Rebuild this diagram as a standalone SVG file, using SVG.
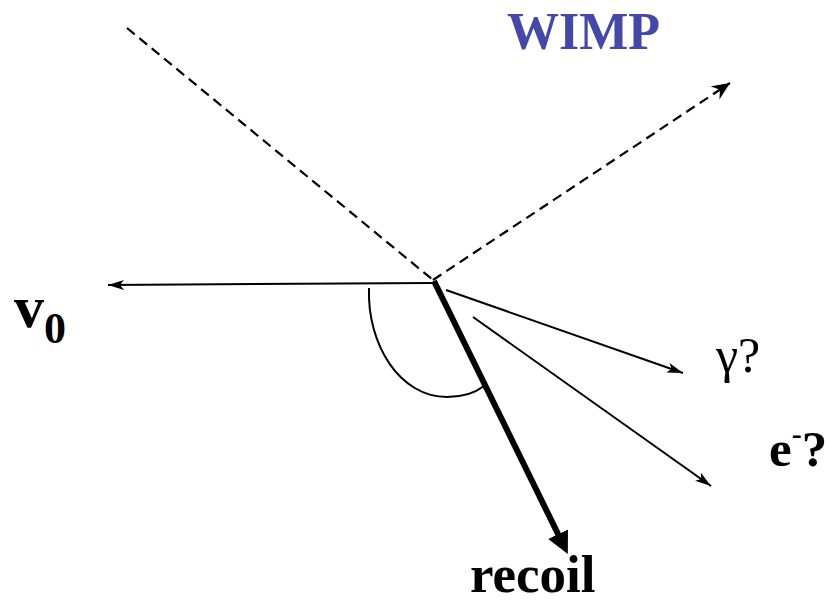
<svg xmlns="http://www.w3.org/2000/svg" width="829" height="605" viewBox="0 0 829 605">
<style>
.thin{stroke:#000;stroke-width:2;fill:none}
.dash{stroke:#000;stroke-width:2.2;fill:none;stroke-dasharray:10,6}
.lbl{font-family:"Liberation Serif","Times New Roman",serif;fill:#000}
.b{font-weight:bold}
</style>
<defs>
<marker id="ah" markerUnits="userSpaceOnUse" markerWidth="18" markerHeight="12" refX="16" refY="5" orient="auto">
<path d="M0,0 L16,5 L0,10 L4,5 z" fill="#000"/>
</marker>
<marker id="ahd" markerUnits="userSpaceOnUse" markerWidth="22" markerHeight="18" refX="18" refY="8" orient="auto">
<path d="M0,0 L18,8 L0,16 L6,8 z" fill="#000"/>
</marker>
<marker id="big" markerUnits="userSpaceOnUse" markerWidth="24" markerHeight="24" refX="2" refY="11" orient="auto">
<path d="M0,0 L22,11 L0,22 z" fill="#000"/>
</marker>
</defs>
<g id="connectors">
<line class="dash" x1="127" y1="28" x2="433" y2="280"/>
<line class="dash" x1="433" y1="280" x2="730" y2="83" marker-end="url(#ahd)"/>
<line class="thin" x1="433" y1="283" x2="108" y2="285" marker-end="url(#ah)"/>
<line class="thin" x1="446" y1="290" x2="683" y2="373" marker-end="url(#ah)"/>
<line class="thin" x1="473" y1="317" x2="711" y2="486" marker-end="url(#ah)"/>
<path class="thin" d="M369,288 C367,345 400,397 447,397 C463,397 475,393 484,386"/>
<line x1="434" y1="281" x2="559" y2="536" stroke="#000" stroke-width="6" marker-end="url(#big)"/>
</g>
<g id="wimp"><text class="lbl b" x="507" y="49" font-size="52" style="fill:#4449A8">WIMP</text></g>
<g id="v0"><text class="lbl b" x="14" y="327" font-size="60">v</text><text class="lbl b" x="44" y="343" font-size="44">0</text></g>
<g id="gamma"><text class="lbl" x="716" y="372" font-size="50">γ?</text></g>
<g id="electron"><text class="lbl b" x="769" y="466" font-size="51">e<tspan font-size="30" dy="-22">-</tspan><tspan dy="22">?</tspan></text></g>
<g id="recoil"><text class="lbl b" x="470" y="592" font-size="53">recoil</text></g>
</svg>
